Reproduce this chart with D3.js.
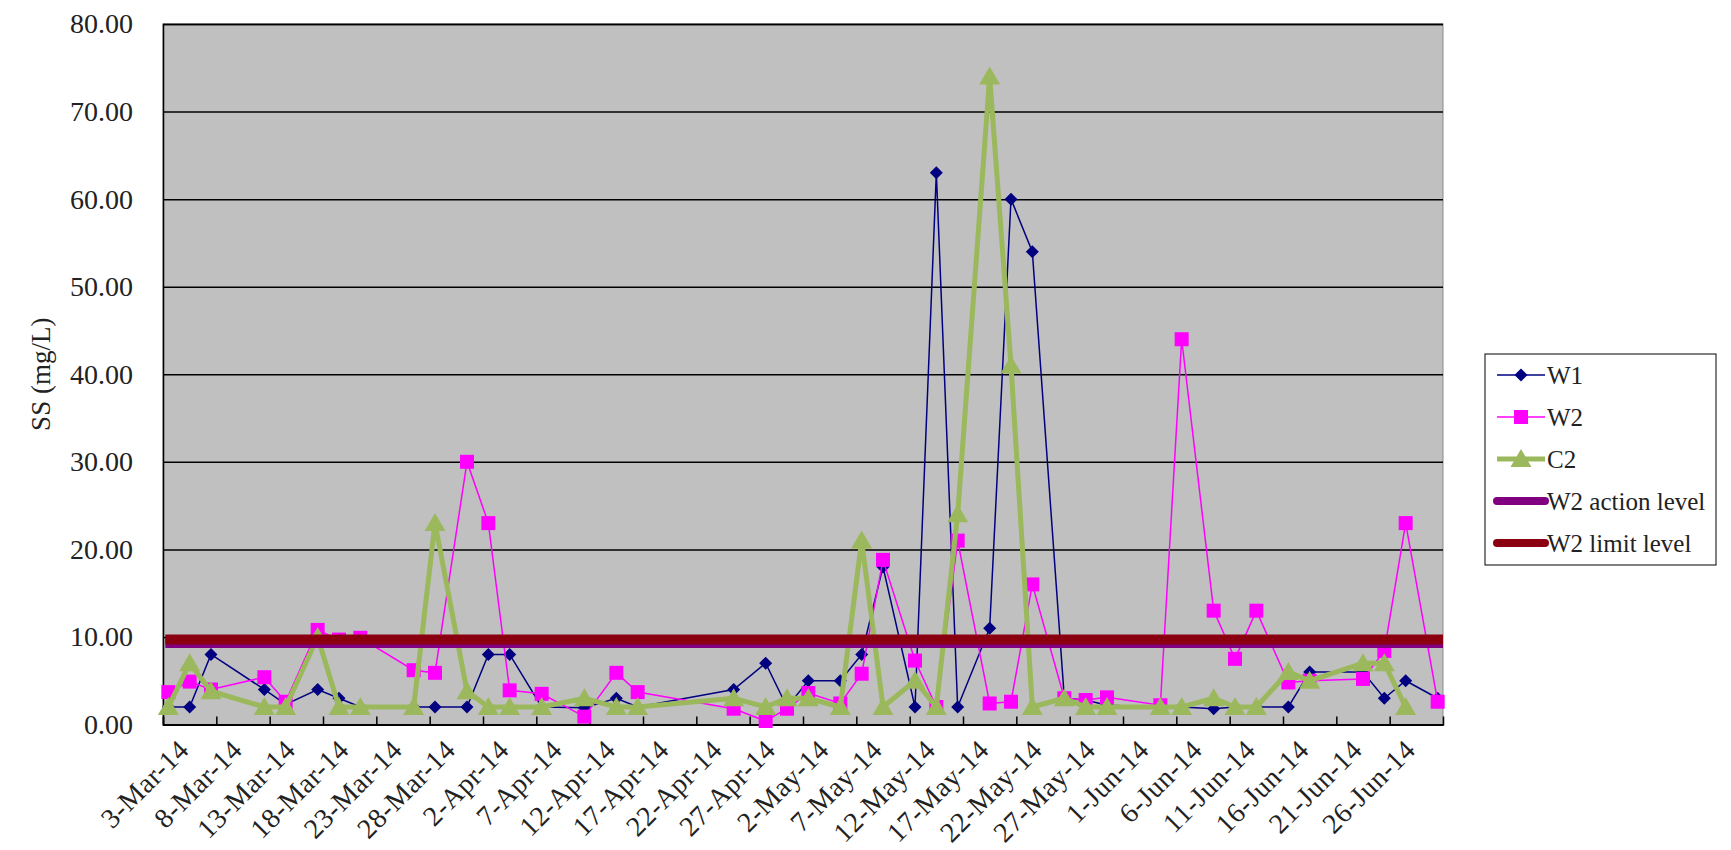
<!DOCTYPE html>
<html>
<head>
<meta charset="utf-8">
<script src="https://cdn.jsdelivr.net/npm/d3@7"></script>
<style>
body{margin:0;background:#fff;}
text{font-family:"Liberation Serif","DejaVu Serif",serif;}
</style>
</head>
<body>
<svg id="chart"></svg>
<script>
// sampling dates and SS readings (mg/L)
var sampleDates=["2014-03-03","2014-03-05","2014-03-07","2014-03-12","2014-03-14","2014-03-17","2014-03-19","2014-03-21",
"2014-03-26","2014-03-28","2014-03-31","2014-04-02","2014-04-04","2014-04-07","2014-04-11","2014-04-14","2014-04-16",
"2014-04-25","2014-04-28","2014-04-30","2014-05-02","2014-05-05","2014-05-07","2014-05-09","2014-05-12","2014-05-14",
"2014-05-16","2014-05-19","2014-05-21","2014-05-23","2014-05-26","2014-05-28","2014-05-30","2014-06-04","2014-06-06",
"2014-06-09","2014-06-11","2014-06-13","2014-06-16","2014-06-18","2014-06-23","2014-06-25","2014-06-27","2014-06-30"];

var w1=[2,2,8,4,2.3,4,3,2,2,2,2,8,8,2,1.9,3,2,4,7,2,5,5,8,18,2,63,2,11,60,54,3,2.8,2.2,2,2,1.8,2,2,2,6,6,3,5,3];
var w2=[3.7,4.9,4,5.4,2.6,10.8,9.7,9.9,6.2,5.9,30,23,3.9,3.5,0.9,5.9,3.7,1.8,0.4,1.8,3.6,2.4,5.8,18.8,7.3,2,21,2.4,2.6,16,3,2.8,3.1,2.2,44,13,7.5,13,4.8,5,5.2,8.4,23,2.6];
var c2=[2,7,3.8,2,2,10,2,2,2,23,3.8,2,2,2,3,2,2,3,2,3,3,2,21,2,5,2,24,74,41,2,3,2,2,2,2,3,2,2,6,5,7,7,2,null];

var actionLevel=9.3;
var limitLevel=9.7;

var yTicks=[0,10,20,30,40,50,60,70,80];
var tickDates=["2014-03-03","2014-03-08","2014-03-13","2014-03-18","2014-03-23","2014-03-28","2014-04-02","2014-04-07",
"2014-04-12","2014-04-17","2014-04-22","2014-04-27","2014-05-02","2014-05-07","2014-05-12","2014-05-17","2014-05-22",
"2014-05-27","2014-06-01","2014-06-06","2014-06-11","2014-06-16","2014-06-21","2014-06-26"];

var svgWidth=1731,svgHeight=850;
var plotL=163,plotR=1443,plotT=24,plotB=724.5;

var parse=d3.utcParse("%Y-%m-%d");
var fmt=d3.utcFormat("%-d-%b-%y");

var svg=d3.select('#chart')
  .attr('width',svgWidth)
  .attr('height',svgHeight);

// one slot per day, points sit in the middle of their day
var xScale=d3.scaleUtc()
  .domain([parse("2014-03-03"),parse("2014-07-01")])
  .range([plotL,plotR]);
var yScale=d3.scaleLinear()
  .domain([0,80])
  .range([plotB,plotT]);

var mid=function(s){return xScale(d3.utcHour.offset(parse(s),12));};

svg.append('rect')
  .attr('x',plotL).attr('y',plotT)
  .attr('width',plotR-plotL).attr('height',plotB-plotT)
  .attr('fill','#c0c0c0')
  .attr('stroke','#8a8a8a');

// gridlines + y labels
var yAxis=d3.axisLeft(yScale)
  .tickValues(yTicks)
  .tickSize(-(plotR-plotL))
  .tickPadding(30)
  .tickFormat(d3.format('.2f'));
var gy=svg.append('g')
  .attr('transform','translate('+plotL+',0)')
  .call(yAxis);
gy.select('.domain').attr('stroke','#000').attr('stroke-width',1.5);
gy.selectAll('.tick line').attr('stroke','#000').attr('stroke-width',1.5);
gy.selectAll('.tick text')
  .attr('font-size',28)
  .attr('fill','#222')
  .attr('font-family','"Liberation Serif",serif');

// x axis
var xAxis=d3.axisBottom(xScale)
  .tickValues(tickDates.map(parse))
  .tickSize(-8)
  .tickFormat(function(d){return fmt(d);});
var gx=svg.append('g')
  .attr('transform','translate(0,'+plotB+')')
  .call(xAxis);
gx.select('.domain').attr('stroke','#000').attr('stroke-width',1.5);
gx.selectAll('.tick line').attr('stroke','#000').attr('stroke-width',1.5);
gx.selectAll('.tick text')
  .attr('font-size',28)
  .attr('letter-spacing',0.5)
  .attr('fill','#222')
  .attr('text-anchor','end')
  .attr('dy','0.35em')
  .attr('transform','translate(20,20) rotate(-45)')
  .attr('x',0).attr('y',0);

svg.append('text')
  .attr('transform','translate(50,'+((plotT+plotB)/2)+') rotate(-90)')
  .attr('text-anchor','middle')
  .attr('font-size',27)
  .attr('fill','#222')
  .text('SS (mg/L)');

var diamond=function(r){return 'M0,'+(-r)+'L'+r+',0L0,'+r+'L'+(-r)+',0Z';};
var square=function(r){return 'M'+(-r)+','+(-r)+'H'+r+'V'+r+'H'+(-r)+'Z';};
var triangle=function(r){return 'M0,'+(-r)+'L'+(r*1.05)+','+(r*0.8)+'L'+(-r*1.05)+','+(r*0.8)+'Z';};

var series=[
  {name:'W1',values:w1,color:'#000080',width:1.5,marker:diamond(6.5)},
  {name:'W2',values:w2,color:'#ff00ff',width:1.5,marker:square(7)},
  {name:'C2',values:c2,color:'#9bb85c',width:5,marker:triangle(10)}
];

var line=d3.line()
  .defined(function(d){return d.v!=null;})
  .x(function(d){return mid(d.date);})
  .y(function(d){return yScale(d.v);});

series.forEach(function(s){
  var pts=sampleDates.map(function(d,i){return {date:d,v:s.values[i]};});
  svg.append('path')
    .datum(pts)
    .attr('d',line)
    .attr('fill','none')
    .attr('stroke',s.color)
    .attr('stroke-width',s.width)
    .attr('stroke-linejoin','miter');
  svg.selectAll('.m'+s.name)
    .data(pts.filter(function(d){return d.v!=null;}))
    .enter()
    .append('path')
    .attr('d',s.marker)
    .attr('transform',function(d){return 'translate('+mid(d.date)+','+yScale(d.v)+')';})
    .attr('fill',s.color);
});

// level lines across the sampling period
var levels=[
  {name:'W2 action level',v:actionLevel,color:'#800080'},
  {name:'W2 limit level',v:limitLevel,color:'#8b0010'}
];
levels.forEach(function(l){
  svg.append('line')
    .attr('x1',mid(sampleDates[0])-3)
    .attr('x2',plotR)
    .attr('y1',yScale(l.v)).attr('y2',yScale(l.v))
    .attr('stroke',l.color)
    .attr('stroke-width',10);
});

// legend
var lg=svg.append('g').attr('transform','translate(1485,354)');
lg.append('rect')
  .attr('width',231).attr('height',211)
  .attr('fill','#fff').attr('stroke','#000');
var items=series.concat(levels);
items.forEach(function(it,i){
  var yy=21+i*42;
  var g=lg.append('g').attr('transform','translate(0,'+yy+')');
  if(it.marker){
    g.append('line').attr('x1',12).attr('x2',60).attr('y1',0).attr('y2',0)
      .attr('stroke',it.color).attr('stroke-width',it.width);
    g.append('path').attr('d',it.marker).attr('transform','translate(36,0)').attr('fill',it.color);
  }else{
    g.append('line').attr('x1',12).attr('x2',60).attr('y1',0).attr('y2',0)
      .attr('stroke',it.color).attr('stroke-width',8).attr('stroke-linecap','round');
  }
  g.append('text').attr('x',62).attr('y',0).attr('dy','0.35em')
    .attr('font-size',25).attr('fill','#222').text(it.name);
});
</script>
</body>
</html>
